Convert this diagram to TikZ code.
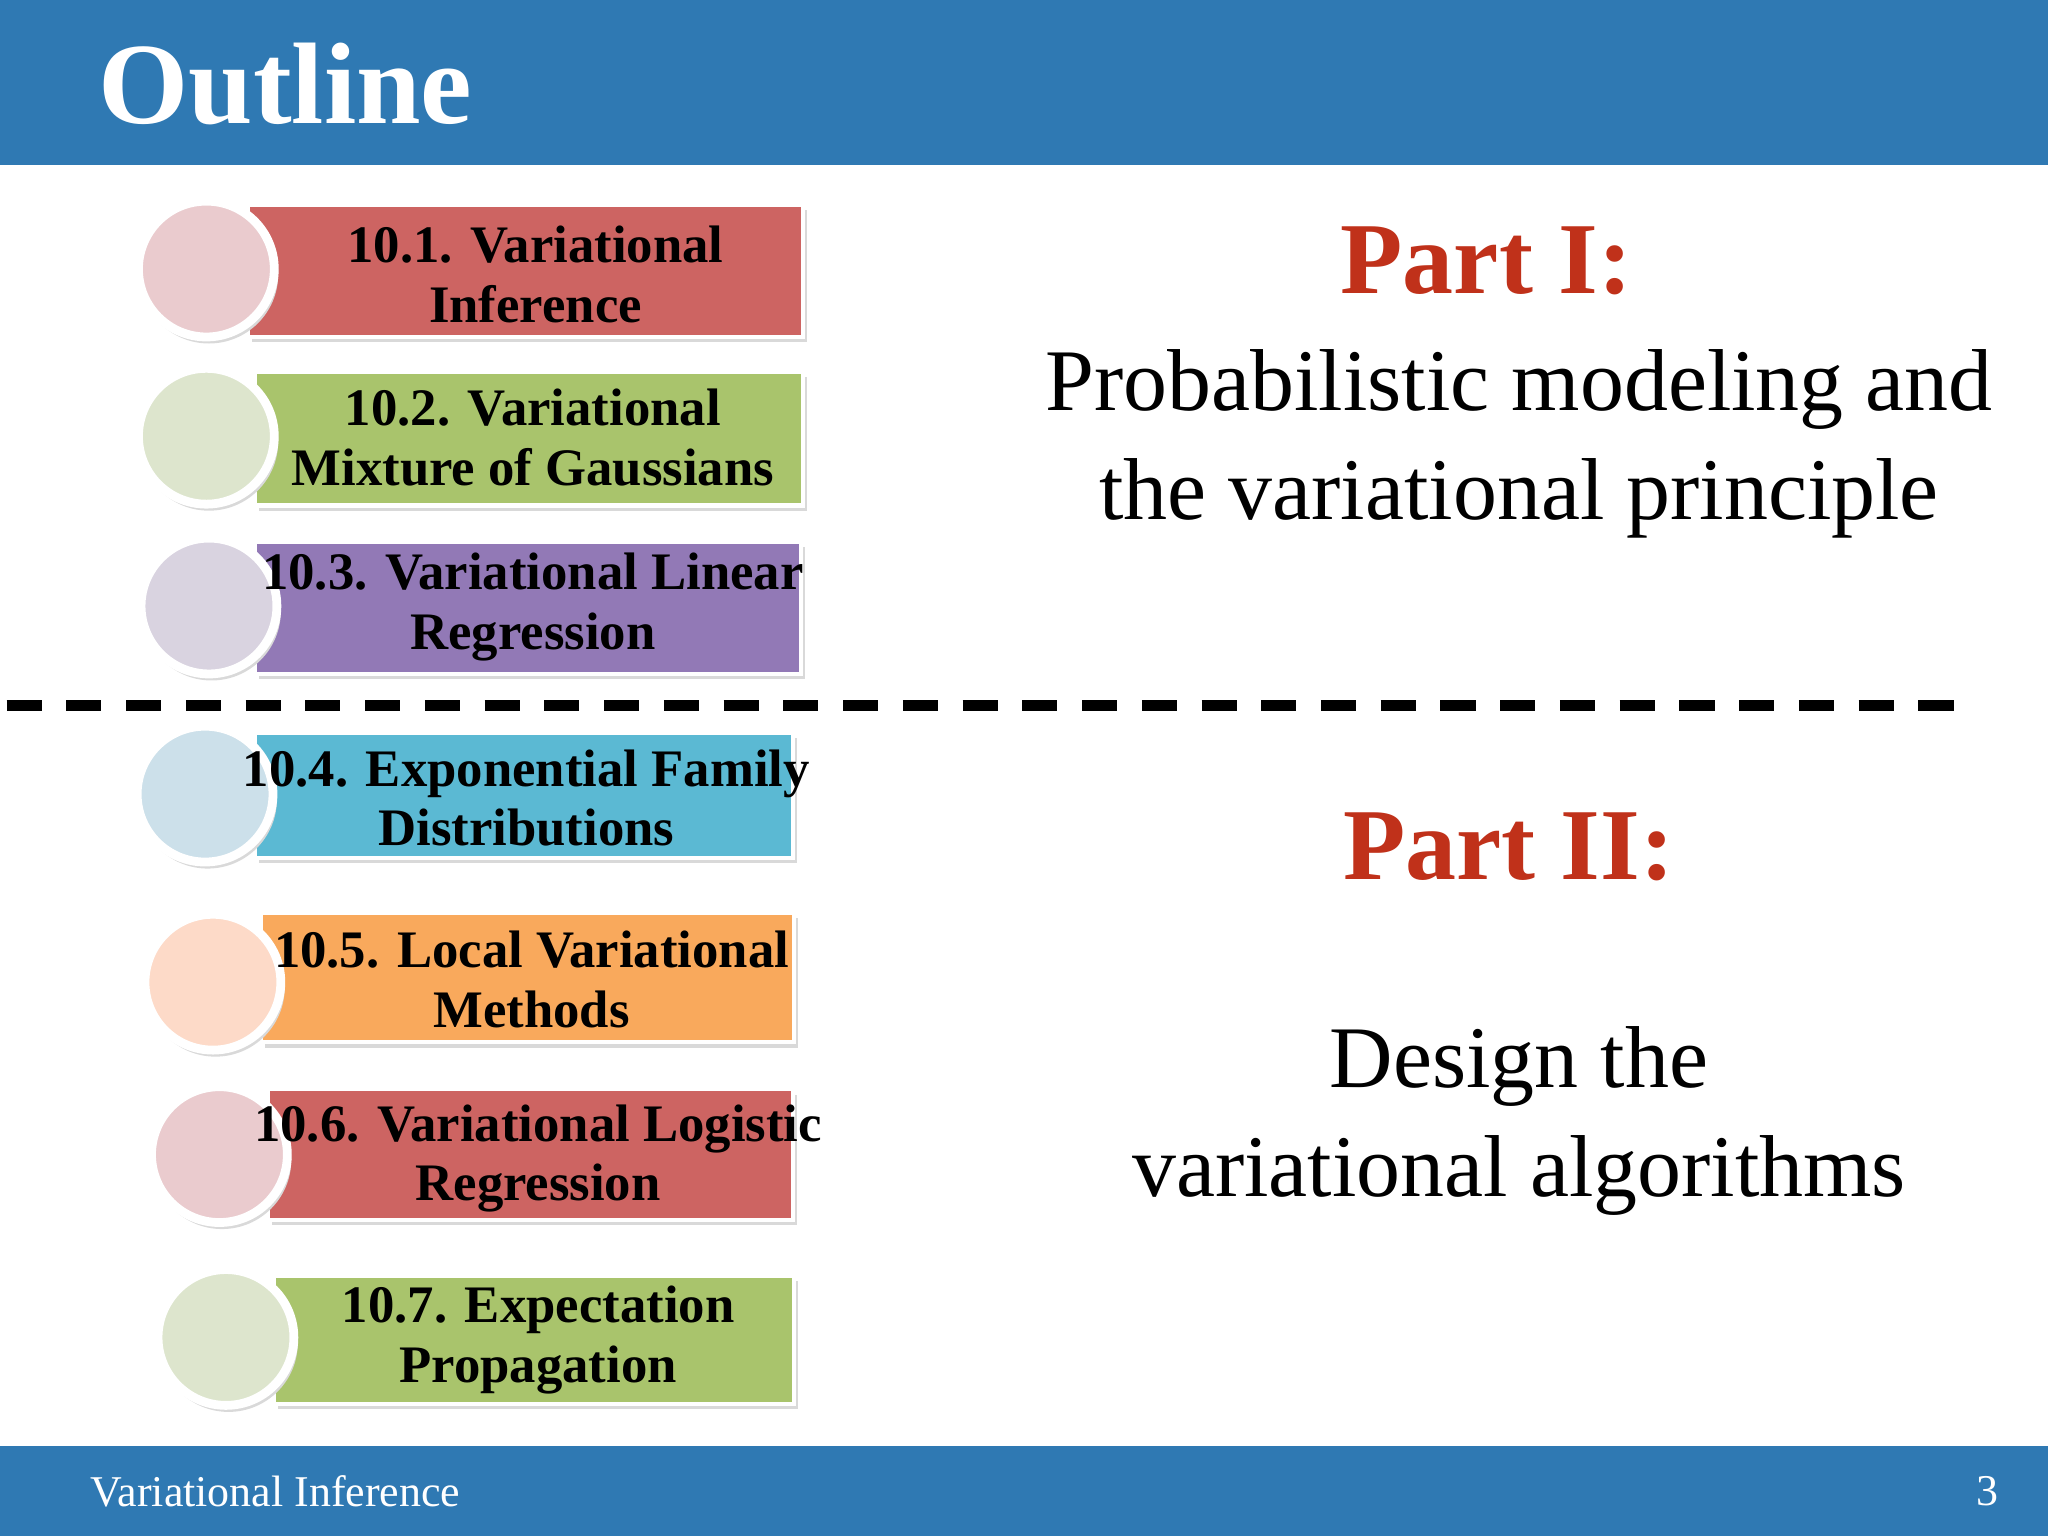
\documentclass[tikz,border=0pt]{standalone}
\usepackage{fontspec}
\setmainfont{Liberation Serif}
\begin{document}
\begin{tikzpicture}[x=0.01306cm,y=-0.01306cm,
  bar/.style={fill=barblue,draw=none},
  tab/.style={draw=white,line width=1.2pt,drop shadow/.style={}},
  ball/.style={circle,draw=white,line width=2.5pt,minimum size=104*0.01306cm},
  itemtxt/.style={align=center,font=\fontsize{15}{17}\selectfont\bfseries,text=black},
  parttxt/.style={font=\fontsize{29}{33}\selectfont\bfseries,text=partred},
  bodytxt/.style={align=center,font=\fontsize{25}{31}\selectfont}]
\definecolor{barblue}{HTML}{2F79B3}
\definecolor{partred}{HTML}{C0311A}
\definecolor{cred}{HTML}{CD6462}\definecolor{lred}{HTML}{EACBCE}
\definecolor{cgreen}{HTML}{A9C46C}\definecolor{lgreen}{HTML}{DDE5CD}
\definecolor{cpurple}{HTML}{9279B6}\definecolor{lpurple}{HTML}{D9D3E0}
\definecolor{cblue}{HTML}{5BB9D3}\definecolor{lblue}{HTML}{CCE0EA}
\definecolor{corange}{HTML}{F9A95C}\definecolor{lorange}{HTML}{FDDAC8}
\useasboundingbox (0,0) rectangle (1568,1176);
\fill[bar] (0,0) rectangle (1568,126);
\fill[bar] (0,1107) rectangle (1568,1176);
\node[anchor=west,text=white,font=\fontsize{33}{36}\selectfont\bfseries] (title) at (66,64) {Outline};
\node[anchor=west,text=white,font=\fontsize{12.5}{14}\selectfont] (foot) at (60,1142) {Variational Inference};
\node[text=white,font=\fontsize{12.5}{14}\selectfont] (page) at (1522,1142) {3};
% items
\foreach \cx/\cy/\xa/\xb/\ya/\yb/\dc/\lc/\tx/\ty/\txt/\nm in {
 158/206/190/615/157/258/cred/lred/410/210/{10.1. Variational\\Inference}/i1,
 158/334/195/615/285/387/cgreen/lgreen/408/335/{10.2. Variational\\Mixture of Gaussians}/i2,
 160/464/195/613/415/516/cpurple/lpurple/408/465/{10.3. Variational Linear\\Regression}/i3,
 157/608/195/607/561/657/cblue/lblue/403/611/{10.4. Exponential Family\\Distributions}/i4,
 163/752/200/608/699/798/corange/lorange/407/750/{10.5. Local Variational\\Methods}/i5,
 168/884/205/607/834/934/cred/lred/412/887/{10.6. Variational Logistic\\Regression}/i6,
 173/1024/210/608/977/1075/cgreen/lgreen/412/1026/{10.7. Expectation\\Propagation}/i7}{
  \fill[black!15] (\xa+3,\ya+4) rectangle (\xb+3,\yb+4);
  \draw[tab,fill=\dc] (\xa,\ya) rectangle (\xb,\yb);
  \fill[black!15] (\cx+2,\cy+4) circle (53);
  \node[ball,fill=\lc] (\nm c) at (\cx,\cy) {};
  \node[itemtxt] (\nm t) at (\tx,\ty) {\txt};
}
\coordinate (dl) at (5,540); \coordinate (dr) at (1512,540);
\draw[line width=3pt,dash pattern=on 10pt off 7pt] (dl) -- (dr);
\node[parttxt] (p1) at (1138,200) {Part I:};
\node[bodytxt] (b1) at (1163,340) {Probabilistic modeling and\\the variational principle};
\node[parttxt] (p2) at (1155,648) {Part II:};
\node[bodytxt] (b2) at (1163,858) {Design the\\variational algorithms};
\end{tikzpicture}
\end{document}
